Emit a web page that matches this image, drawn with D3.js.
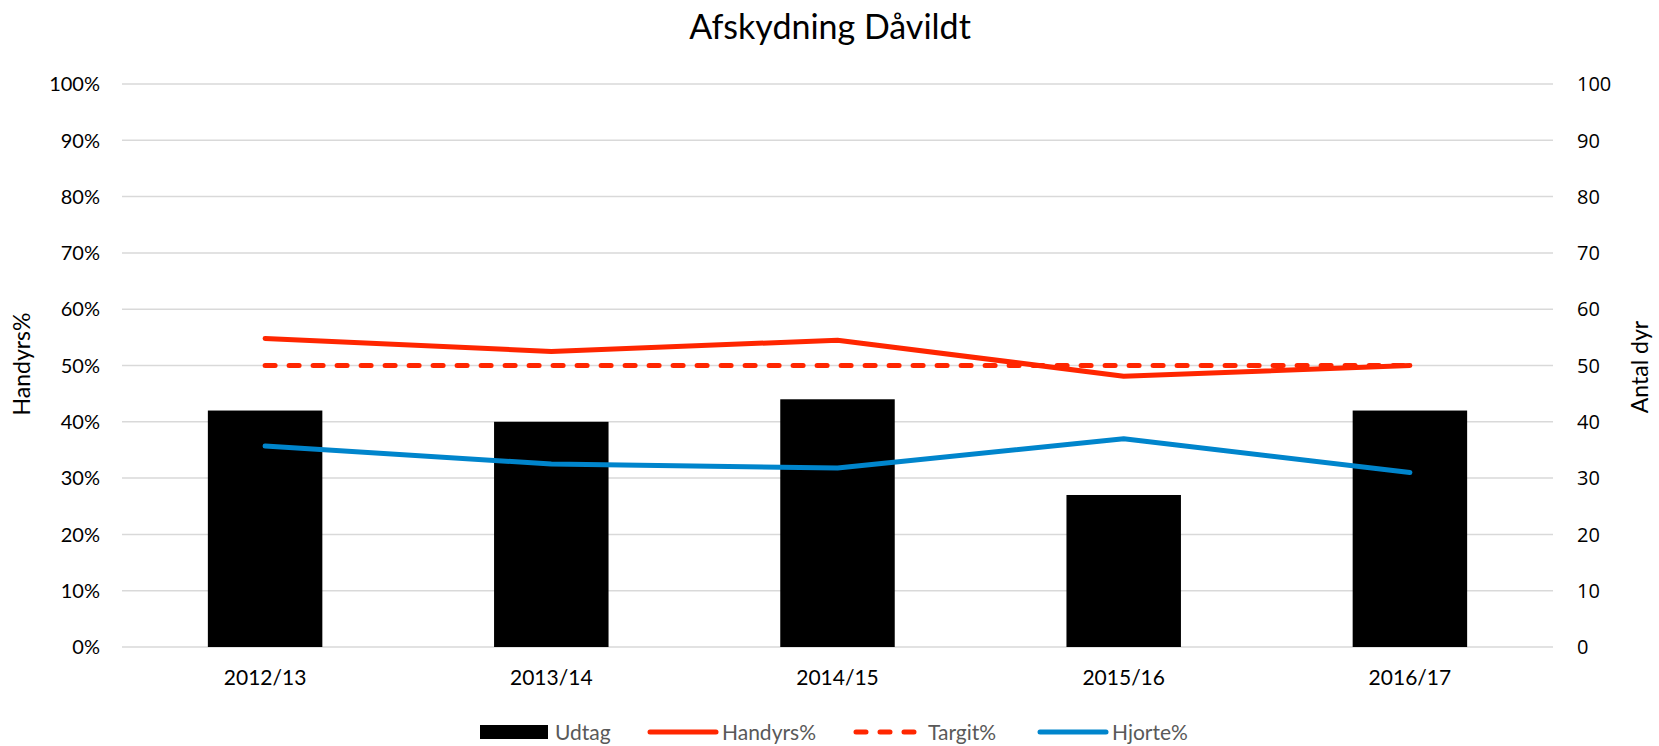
<!DOCTYPE html>
<html>
<head>
<meta charset="utf-8">
<script src="https://cdn.jsdelivr.net/npm/d3@7"></script>
<style>
  body { margin: 0; background: #fff; }
  svg { display: block; font-family: Lato, "Liberation Sans", sans-serif; }
</style>
</head>
<body>
<div id="chart"></div>
<script>
// chart data
const seasons = ['2012/13', '2013/14', '2014/15', '2015/16', '2016/17'];
const udtag = [42, 40, 44, 27, 42];
const handyrs = [54.8, 52.5, 54.5, 48.1, 50];
const targit = [50, 50, 50, 50, 50];
const hjorte = [35.7, 32.5, 31.8, 37.0, 31.0];
const leftTicks = [0, 10, 20, 30, 40, 50, 60, 70, 80, 90, 100];
const rightTicks = [0, 10, 20, 30, 40, 50, 60, 70, 80, 90, 100];

const width = 1659;
const height = 746;
const margin = { top: 84, right: 106, bottom: 99, left: 122 };

const svg = d3.select('#chart').append('svg')
  .attr('width', width)
  .attr('height', height);

const xScale = d3.scaleBand()
  .domain(seasons)
  .range([margin.left, width - margin.right])
  .paddingInner(0.6)
  .paddingOuter(0.3);

// center of each band (line points sit there)
const xMid = (d) => xScale(d) + xScale.bandwidth() / 2;

const yLeft = d3.scaleLinear().domain([0, 100]).range([height - margin.bottom, margin.top]);
const yRight = d3.scaleLinear().domain([0, 100]).range([height - margin.bottom, margin.top]);

// gridlines
svg.append('g')
  .selectAll('line')
  .data(leftTicks)
  .join('line')
  .attr('x1', margin.left)
  .attr('x2', width - margin.right)
  .attr('y1', (d) => yLeft(d))
  .attr('y2', (d) => yLeft(d))
  .attr('stroke', '#d9d9d9')
  .attr('stroke-width', 1.5);

// left axis labels
svg.append('g')
  .selectAll('text')
  .data(leftTicks)
  .join('text')
  .attr('x', 100)
  .attr('y', (d) => yLeft(d))
  .attr('dy', '0.36em')
  .attr('text-anchor', 'end')
  .attr('font-size', 20)
  .attr('fill', '#000')
  .text((d) => d + '%');

// right axis labels
svg.append('g')
  .selectAll('text')
  .data(rightTicks)
  .join('text')
  .attr('x', 1577)
  .attr('y', (d) => yRight(d))
  .attr('dy', '0.36em')
  .attr('text-anchor', 'start')
  .attr('font-family', '"Open Sans", sans-serif')
  .attr('font-size', 20)
  .attr('fill', '#000')
  .text((d) => d);

// bars
svg.append('g')
  .selectAll('rect')
  .data(seasons)
  .join('rect')
  .attr('x', (d) => xScale(d))
  .attr('width', xScale.bandwidth())
  .attr('y', (d, i) => yRight(udtag[i]))
  .attr('height', (d, i) => yRight(0) - yRight(udtag[i]))
  .attr('fill', '#000');

const line = d3.line()
  .x((d, i) => xMid(seasons[i]))
  .y((d) => yLeft(d));

svg.append('path')
  .datum(targit)
  .attr('d', line)
  .attr('fill', 'none')
  .attr('stroke', '#ff2600')
  .attr('stroke-width', 5)
  .attr('stroke-linecap', 'round')
  .attr('stroke-dasharray', '10,14');

svg.append('path')
  .datum(handyrs)
  .attr('d', line)
  .attr('fill', 'none')
  .attr('stroke', '#ff2600')
  .attr('stroke-width', 5)
  .attr('stroke-linecap', 'round')
  .attr('stroke-linejoin', 'round');

svg.append('path')
  .datum(hjorte)
  .attr('d', line)
  .attr('fill', 'none')
  .attr('stroke', '#0085cc')
  .attr('stroke-width', 5)
  .attr('stroke-linecap', 'round')
  .attr('stroke-linejoin', 'round');

// category labels
svg.append('g')
  .selectAll('text')
  .data(seasons)
  .join('text')
  .attr('x', (d) => xMid(d))
  .attr('y', 685)
  .attr('text-anchor', 'middle')
  .attr('font-size', 21)
  .attr('fill', '#000')
  .text((d) => d);

// title
svg.append('text')
  .attr('x', 830)
  .attr('y', 39)
  .attr('text-anchor', 'middle')
  .attr('font-size', 34)
  .attr('fill', '#000')
  .text('Afskydning Dåvildt');

// axis titles
svg.append('text')
  .attr('transform', 'translate(30, 364) rotate(-90)')
  .attr('text-anchor', 'middle')
  .attr('font-size', 23)
  .attr('fill', '#000')
  .text('Handyrs%');

svg.append('text')
  .attr('transform', 'translate(1648, 367) rotate(-90)')
  .attr('text-anchor', 'middle')
  .attr('font-size', 23)
  .attr('fill', '#000')
  .text('Antal dyr');

// legend (kept just inside the bottom edge)
const legendItems = [
  { name: 'Udtag', type: 'rect', x: 480 },
  { name: 'Handyrs%', type: 'line', color: '#ff2600', dash: null, x: 647 },
  { name: 'Targit%', type: 'line', color: '#ff2600', dash: '10,14', x: 853 },
  { name: 'Hjorte%', type: 'line', color: '#0085cc', dash: null, x: 1037 },
];
const ly = 732;
const legend = svg.append('g')
  .selectAll('g')
  .data(legendItems)
  .join('g');

legend.filter((d) => d.type === 'rect')
  .append('rect')
  .attr('x', (d) => d.x)
  .attr('y', ly - 7)
  .attr('width', 68)
  .attr('height', 14)
  .attr('fill', '#000');

legend.filter((d) => d.type === 'line')
  .append('line')
  .attr('x1', (d) => d.x + 3)
  .attr('x2', (d) => d.x + 69)
  .attr('y1', ly)
  .attr('y2', ly)
  .attr('stroke', (d) => d.color)
  .attr('stroke-width', 5)
  .attr('stroke-linecap', 'round')
  .attr('stroke-dasharray', (d) => d.dash);

legend.append('text')
  .attr('x', (d) => d.x + 75)
  .attr('y', ly + 8)
  .attr('font-size', 21)
  .attr('fill', '#595959')
  .text((d) => d.name);
</script>
</body>
</html>
